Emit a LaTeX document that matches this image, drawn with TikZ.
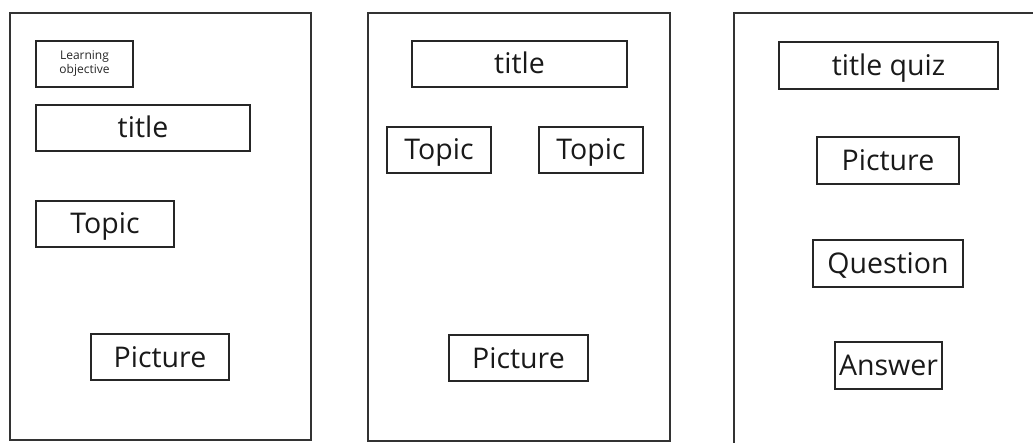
\documentclass[tikz,border=0pt]{standalone}
\usepackage{fontspec}
\setmainfont{Open Sans}
\begin{document}
\begin{tikzpicture}[x=1pt,y=-1pt,
  panel/.style={draw=black!80,line width=1.4pt},
  box/.style={draw=black!85,line width=1.3pt,rectangle,inner sep=0pt,font=\fontsize{28.5}{30}\selectfont,text=black!90,text height=20pt,text depth=0pt},
  smallbox/.style={draw=black!85,line width=1.3pt,rectangle,inner sep=0pt,font=\fontsize{12}{14}\selectfont,align=center,text=black!85}]
\useasboundingbox (0,0) rectangle (1033,443);
\clip (0,0) rectangle (1033,443);
% panels
\draw[panel] (10,13) rectangle (311,440);
\draw[panel] (368,13) rectangle (670,441);
\draw[panel] (734,13) rectangle (1045,460);
% panel 1
\node[smallbox,minimum width=97pt,minimum height=46pt] (lo) at (84.5,64) {Learning\\objective};
\node[box,minimum width=214pt,minimum height=46pt] (t1) at (143,128) {title};
\node[box,minimum width=138pt,minimum height=46pt] (tp1) at (105,224) {Topic};
\node[box,minimum width=138pt,minimum height=46pt] (p1) at (160,357) {Picture};
% panel 2
\node[box,minimum width=215pt,minimum height=46pt] (t2) at (519.5,64) {title};
\node[box,minimum width=104pt,minimum height=46pt] (tp2a) at (439,150) {Topic};
\node[box,minimum width=104pt,minimum height=46pt] (tp2b) at (591,150) {Topic};
\node[box,minimum width=139pt,minimum height=46pt] (p2) at (518.5,358) {Picture};
% panel 3
\node[box,minimum width=219pt,minimum height=47pt] (t3) at (888.5,65.5) {title quiz};
\node[box,minimum width=142pt,minimum height=47pt] (p3) at (888,160.5) {Picture};
\node[box,minimum width=150pt,minimum height=47pt] (q3) at (888,263.5) {Question};
\node[box,minimum width=107pt,minimum height=47pt] (a3) at (888.5,365.5) {Answer};
\end{tikzpicture}
\end{document}
